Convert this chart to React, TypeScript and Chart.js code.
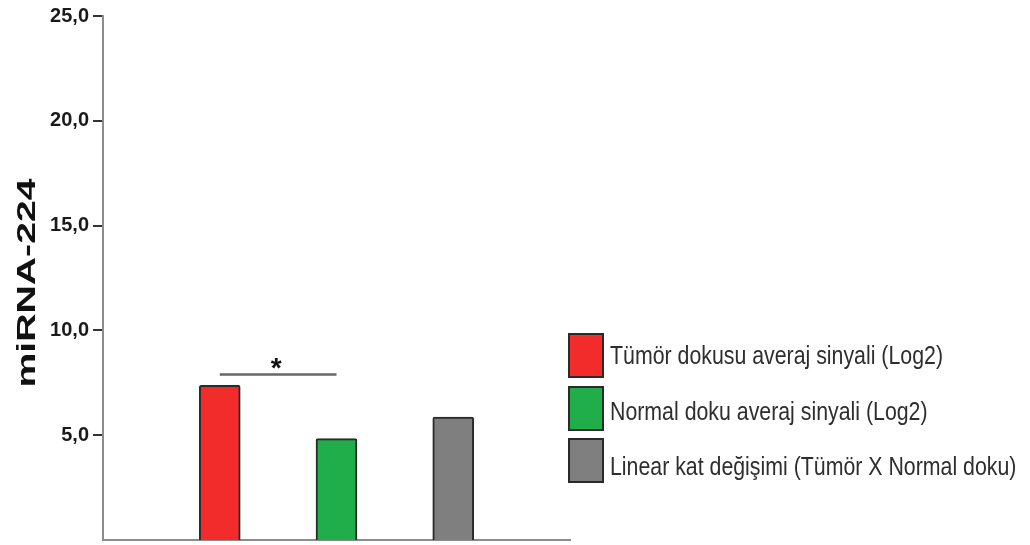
import { useEffect, useRef } from 'react';
import { Chart, registerables } from 'chart.js';

Chart.register(...registerables);

// Groups shown on the chart (also used as legend entries)
const categories = [
  'Tümör dokusu averaj sinyali (Log2)',
  'Normal doku averaj sinyali (Log2)',
  'Linear kat değişimi (Tümör X Normal doku)',
];
const positions = [1, 2, 3];
const values = [7.38, 4.84, 5.87];
const barColors = ['#f22b2b', '#1fae4a', '#7f7f7f'];
const yTicks = [5, 10, 15, 20, 25];
const axisTitle = 'miRNA-224';
// Significance bracket between the first two groups
const bracketGroups = [0, 1];
const bracketLevel = 7.9;
const bracketMark = '*';

const FONT = '"Liberation Sans", Arial, Helvetica, sans-serif';

const overlay = {
  id: 'overlay',
  afterDraw(chart: any) {
    const { ctx } = chart;
    const x = chart.scales.x;
    const y = chart.scales.y;
    ctx.save();

    // significance bracket and star
    const x1 = x.getPixelForValue(positions[bracketGroups[0]]);
    const x2 = x.getPixelForValue(positions[bracketGroups[1]]);
    const yl = y.getPixelForValue(bracketLevel);
    ctx.strokeStyle = '#666666';
    ctx.lineWidth = 2.5;
    ctx.beginPath();
    ctx.moveTo(x1, yl);
    ctx.lineTo(x2, yl);
    ctx.stroke();
    ctx.fillStyle = '#111111';
    ctx.font = `bold 28px ${FONT}`;
    ctx.textAlign = 'center';
    ctx.textBaseline = 'alphabetic';
    ctx.fillText(bracketMark, (x1 + x2) / 2 - 2, yl + 3);

    // rotated y-axis title
    ctx.save();
    ctx.translate(28.5, 283);
    ctx.rotate(-Math.PI / 2);
    ctx.font = `bold 28px ${FONT}`;
    const tw = ctx.measureText(axisTitle).width;
    ctx.scale(209 / tw, 0.9);
    ctx.textAlign = 'center';
    ctx.textBaseline = 'middle';
    ctx.fillStyle = '#111111';
    ctx.fillText(axisTitle, 0, 0);
    ctx.restore();

    // legend
    const boxX = 568;
    const boxW = 36;
    const boxH = 45;
    const boxTops = [333, 386, 438];
    const baselines = [364, 420, 475];
    ctx.font = `26px ${FONT}`;
    ctx.textAlign = 'left';
    ctx.textBaseline = 'alphabetic';
    categories.forEach((label, i) => {
      const top = boxTops[i];
      ctx.fillStyle = barColors[i];
      ctx.fillRect(boxX, top, boxW, boxH);
      ctx.strokeStyle = '#2a2a2a';
      ctx.lineWidth = 2;
      ctx.strokeRect(boxX + 1, top + 1, boxW - 2, boxH - 2);
      ctx.save();
      ctx.translate(610, baselines[i]);
      ctx.scale(0.82, 1);
      ctx.fillStyle = '#2e2e2e';
      ctx.fillText(label, 0, 0);
      ctx.restore();
    });

    ctx.restore();
  },
};

export default function App() {
  const canvasRef = useRef<HTMLCanvasElement | null>(null);

  useEffect(() => {
    const canvas = canvasRef.current;
    if (!canvas) return;
    const chart = new Chart(canvas, {
      type: 'bar',
      data: {
        datasets: [
          {
            label: axisTitle,
            data: positions.map((p, i) => ({ x: p, y: values[i] })),
            backgroundColor: barColors,
            borderColor: '#2a2a2a',
            borderWidth: 2,
            borderRadius: 2,
            barThickness: 41,
          },
        ],
      },
      options: {
        responsive: false,
        animation: false,
        events: [],
        layout: { padding: { left: 0, right: 460, top: 15, bottom: 0 } },
        plugins: {
          legend: { display: false },
          tooltip: { enabled: false },
        },
        scales: {
          x: {
            type: 'linear',
            min: 0,
            max: 4,
            offset: false,
            ticks: { display: false },
            grid: { display: false, drawTicks: false },
            border: { display: true, color: '#8c8c8c', width: 2 },
            afterFit: (s: any) => {
              s.height = 5;
            },
          },
          y: {
            min: 0,
            max: 25,
            afterBuildTicks: (s: any) => {
              s.ticks = yTicks.map((v) => ({ value: v }));
            },
            ticks: {
              callback: (v: any) => Number(v).toFixed(1).replace('.', ','),
              font: { family: FONT, size: 20, weight: 'bold' },
              color: '#1a1a1a',
              padding: 4,
            },
            grid: {
              drawOnChartArea: false,
              drawTicks: true,
              tickLength: 10,
              color: '#333333',
              lineWidth: 2,
            },
            border: { display: true, color: '#8c8c8c', width: 2 },
            afterFit: (s: any) => {
              s.width = 103;
              s.paddingBottom = 0;
            },
          },
        },
      } as any,
      plugins: [overlay],
    });
    return () => chart.destroy();
  }, []);

  return (
    <div style={{ position: 'absolute', left: 0, top: 0, width: 1030, height: 545, background: '#ffffff' }}>
      <canvas ref={canvasRef} width={1030} height={545} style={{ display: 'block' }} />
    </div>
  );
}
